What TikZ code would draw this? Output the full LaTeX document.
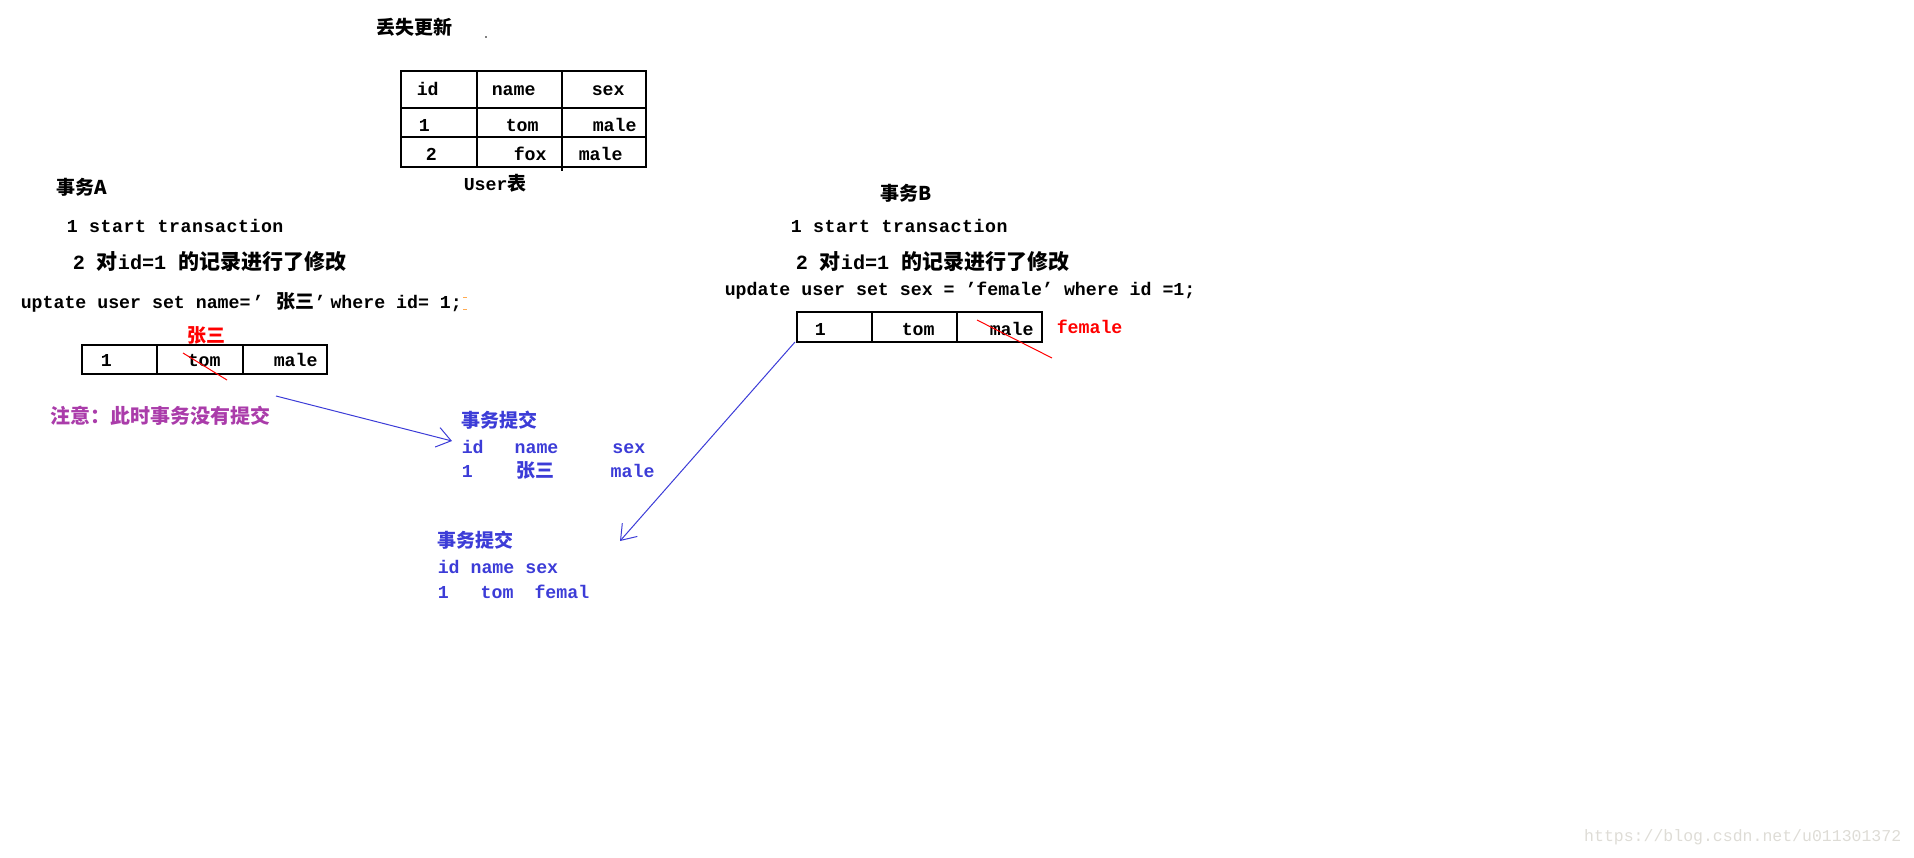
\documentclass[tikz,border=0pt]{standalone}
\usepackage{fontspec}
\setmainfont{Liberation Mono}[Scale=0.96]
\newfontfamily\cjk{Noto Sans CJK SC}
\usepackage{tikz}
\usetikzlibrary{arrows.meta,positioning}
\tikzset{>={Straight Barb[length=14pt,width=20pt]}}

\definecolor{inkblue}{RGB}{60,60,215}
\definecolor{inkred}{RGB}{255,0,0}
\definecolor{inkpurple}{RGB}{170,60,170}
\definecolor{inkorange}{RGB}{255,170,80}
\definecolor{markgray}{RGB}{222,220,214}

\newcommand{\zh}[1]{{\cjk #1}}

\tikzset{
  txt/.style={anchor=west,inner sep=0pt,text height=14pt,text depth=4pt,
    font=\fontsize{19}{19}\selectfont\bfseries},
  bigtxt/.style={txt,font=\fontsize{21}{21}\selectfont\bfseries},
  widetxt/.style={txt,font=\fontsize{19}{19}\selectfont\bfseries\addfontfeature{LetterSpace=3}},
  bluetxt/.style={txt,text=inkblue},
  redtxt/.style={txt,text=inkred},
}

\begin{document}
\begin{tikzpicture}[x=1pt,y=-1pt,line width=1.5pt]
\useasboundingbox (0,0) rectangle (1914,857);

% title
\node [txt] (title) at (376,29) {\zh{丢失更新}};
\fill (486,37) circle (0.9pt);

% User table
\draw (401,71) rectangle (646,167);
\draw (401,108) -- (646,108);
\draw (401,137) -- (646,137);
\draw (477,71) -- (477,167);
\draw (562,71) -- (562,171);
\node [txt] (uid) at (416,90) {id};
\node [txt] (uname) at (491,90) {name};
\node [txt] (usex) at (591,90) {sex};
\node [txt] (uid1) at (418,126) {1};
\node [txt] (uname1) at (505,126) {tom};
\node [txt] (usex1) at (592,126) {male};
\node [txt] (uid2) at (425,155) {2};
\node [txt] (uname2) at (513,155) {fox};
\node [txt] (usex2) at (578,155) {male};
\node [txt] (ucap) at (463,185) {User\zh{表}};

% transaction A
\node [txt] (ta) at (56,189) {\zh{事务A}};
\node [widetxt] (ta1) at (66,227) {1 start transaction};
\node [bigtxt] (ta2) at (72,264) {2 \zh{对}id=1 \zh{的记录进行了修改}};
\node [txt] (tasql) at (20,303)
  {uptate user set name=\hspace{2pt}’\hspace{13pt}\zh{张三}’\hspace{5pt}where id= 1;};
\draw [inkorange,line width=1pt] (463,297) -- (467,297);
\draw [inkorange,line width=1pt] (463,309) -- (467,309);

\node [redtxt] (newname) at (187,337) {\zh{张三}};
\draw (82,345) rectangle (327,374);
\draw (157,345) -- (157,374);
\draw (243,345) -- (243,374);
\node [txt] (aid) at (100,361) {1};
\node [txt] (aname) at (187,361) {tom};
\node [txt] (asex) at (273,361) {male};
\draw [inkred,line width=1pt] (183,353) -- (227,380);

\node [txt,text=inkpurple,font=\fontsize{20}{20}\selectfont\bfseries] (note) at (50,418)
  {\zh{注意：此时事务没有提交}};

% commit of A
\node [bluetxt] (c1) at (461,422) {\zh{事务提交}};
\node [bluetxt] (c1head) at (461,448) {id\hspace{31pt}name\hspace{54pt}sex};
\node [bluetxt] (c1row) at (461,472) {1\hspace{44pt}\zh{张三}\hspace{56pt}male};

% transaction B
\node [txt] (tb) at (880,195) {\zh{事务B}};
\node [widetxt] (tb1) at (790,227) {1 start transaction};
\node [bigtxt] (tb2) at (795,264) {2 \zh{对}id=1 \zh{的记录进行了修改}};
\node [txt] (tbsql) at (724,290) {update user set sex = ’female’ where id =1;};

\draw (797,312) rectangle (1042,342);
\draw (872,312) -- (872,342);
\draw (957,312) -- (957,342);
\coordinate (tbsw) at (795,342);
\node [txt] (bid) at (814,330) {1};
\node [txt] (bname) at (901,330) {tom};
\node [txt] (bsex) at (989,330) {male};
\draw [inkred,line width=1pt] (977,320) -- (1052,358);
\node [redtxt] (newsex) at (1056,328) {female};

% commit of B
\node [bluetxt] (c2) at (437,542) {\zh{事务提交}};
\node [bluetxt] (c2head) at (437,568) {id name sex};
\node [bluetxt] (c2row) at (437,593) {1\hspace{32pt}tom\hspace{21pt}femal};
\coordinate (a1from) at (276,396);
\coordinate (a2to) at (620,541);

\begin{scope}[line width=1pt,inkblue]
\draw [->] (a1from) to ([xshift=-9pt,yshift=7pt]c1head.west);
\draw [->] (tbsw) to (a2to);
\end{scope}

\node [anchor=east,inner sep=0pt,text=markgray,font=\fontsize{17.2}{17.2}\selectfont]
  (mark) at (1902,837) {https://blog.csdn.net/u011301372};

\end{tikzpicture}
\end{document}
